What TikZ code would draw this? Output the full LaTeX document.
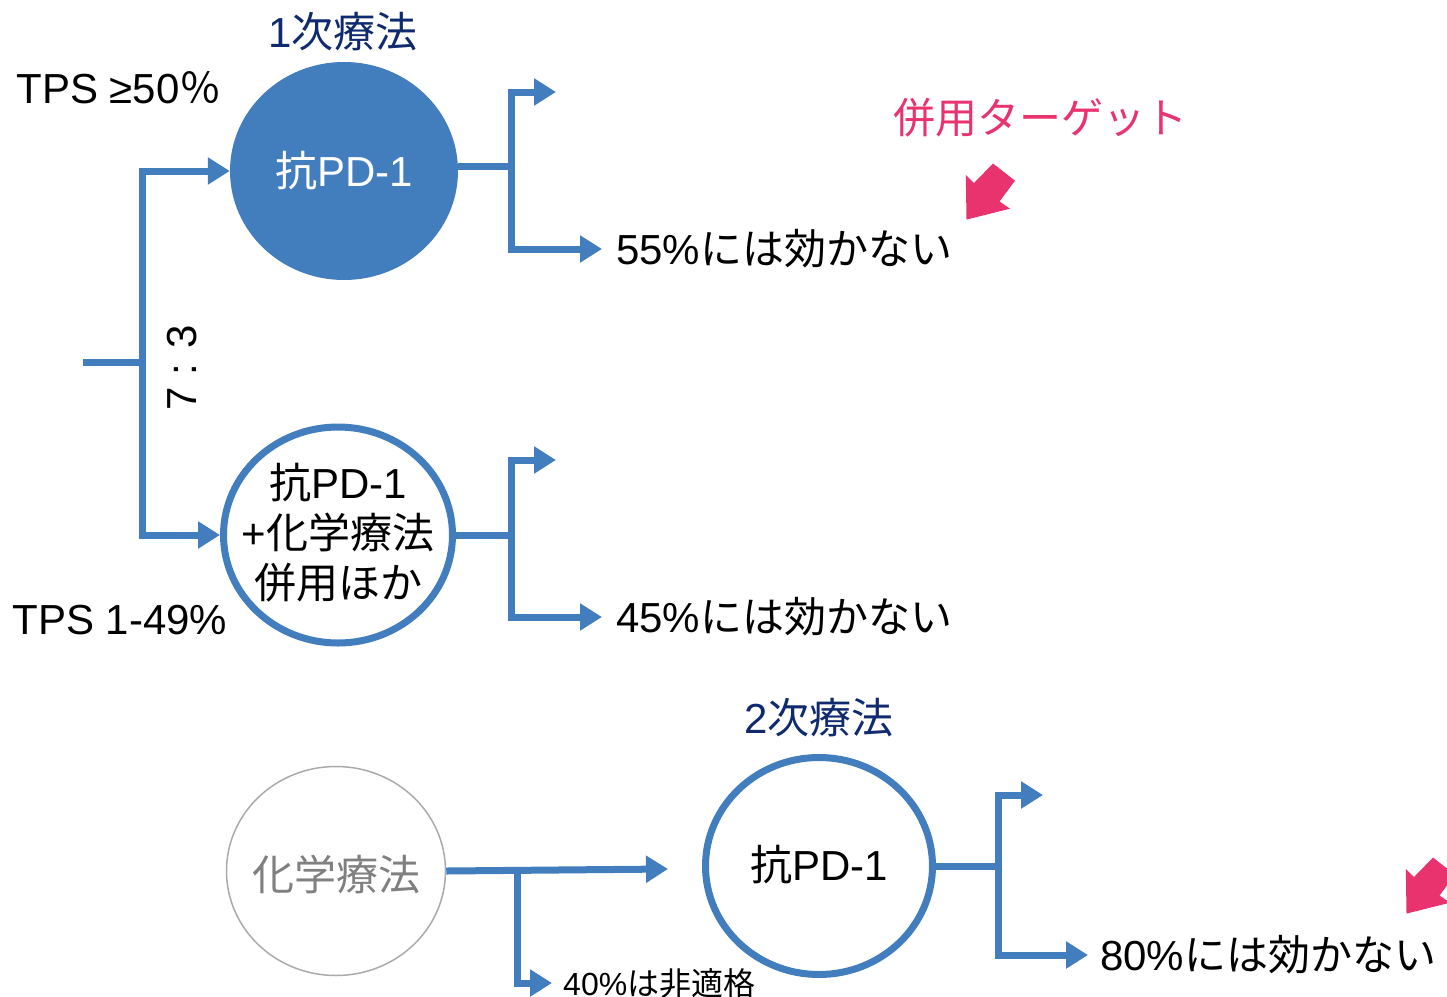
\documentclass[tikz,border=0pt]{standalone}
\usepackage{fontspec}
\setmainfont{Liberation Sans}
\newfontfamily\jp{Noto Sans CJK JP}
\usetikzlibrary{arrows.meta,shapes.geometric}
\definecolor{lblue}{RGB}{66,125,190}
\definecolor{navy}{RGB}{16,42,110}
\definecolor{hotpink}{RGB}{232,51,110}
\definecolor{lgray}{RGB}{170,170,170}
\definecolor{tgray}{RGB}{128,128,128}
\begin{document}
\begin{tikzpicture}[x=1pt,y=-1pt,
  conn/.style={draw=lblue,line width=7pt,line join=miter},
  arr/.style={conn,-{Triangle[length=22pt,width=26pt]}},
  big/.style={font=\fontsize{42}{50}\selectfont,inner sep=0pt},
  small/.style={font=\fontsize{32}{38}\selectfont,inner sep=0pt},
  blob/.style={ellipse,inner sep=0pt},
  outcome/.style={big,anchor=west,inner xsep=14pt}]
\clip (0,0) rectangle (1447,996);
\useasboundingbox (0,0) rectangle (1447,996);

% first-line circles
\node[blob,fill=lblue,minimum width=228pt,minimum height=218pt] (c1) at (344,171) {};
\node[big,text=white] (c1t) at (c1.center) {{\jp 抗}PD-1};
\node[blob,draw=lblue,line width=7pt,fill=white,minimum width=229pt,minimum height=216pt] (c2) at (338,535) {};
\node[big,align=center] (c2t) at (338,533) {{\jp 抗}PD-1\\+{\jp 化学療法}\\{\jp 併用ほか}};

% headings and labels
\node[big,text=navy] (h1) at (343,32) {1{\jp 次療法}};
\node[big] (tps50) at (119,88) {TPS ≥50{\jp ％}};
\node[big] (tps149) at (120,620) {TPS 1-49\%};
\node[big,rotate=90] (r73) at (182,368) {7 : 3};

% split
\coordinate (s) at (83,362);
\coordinate (j) at (142,362);
\draw[conn] (s) -- (j);
\draw[arr] (j) |- (c1.west);
\draw[arr] (j) |- (c2.west);

% outcomes of circle 1
\node[outcome] (r55) at (602,249) {55\%{\jp には効かない}};
\coordinate (b1) at (511,166);
\coordinate (t1) at (556,92);
\draw[conn] ([yshift=5pt]c1.east) -- (b1);
\draw[arr] (b1) |- (t1);
\draw[arr] (b1) |- (r55.west);

% outcomes of circle 2
\node[outcome] (r45) at (602,617) {45\%{\jp には効かない}};
\coordinate (b2) at (511,535);
\coordinate (t2) at (556,460);
\draw[conn] (c2.east) -- (b2);
\draw[arr] (b2) |- (t2);
\draw[arr] (b2) |- (r45.west);

% pink target
\node[big,text=hotpink] (tgt) at (1040,118) {\jp 併用ターゲット};
\fill[hotpink] (966.5,219.6) -- (965.8,175) -- (974,183) -- (993,163.5) -- (1015,180.7) -- (999.5,201.5) -- (1010,208.7) -- cycle;
\begin{scope}[shift={(440,694)}]
\fill[hotpink] (966.5,219.6) -- (965.8,175) -- (974,183) -- (993,163.5) -- (1015,180.7) -- (999.5,201.5) -- (1010,208.7) -- cycle;
\end{scope}

% second line
\node[blob,draw=lgray,line width=1.5pt,minimum width=219pt,minimum height=209pt] (g) at (336,871) {};
\node[big,text=tgray] (gt) at (336,874) {\jp 化学療法};
\node[big,text=navy] (h2) at (819,718) {2{\jp 次療法}};
\node[blob,draw=lblue,line width=7pt,minimum width=227pt,minimum height=217pt] (c3) at (819,866) {};
\node[big] (c3t) at (819,865) {{\jp 抗}PD-1};

\coordinate (e) at (668,869);
\coordinate (jb) at (517,871);
\node[small,anchor=west,inner xsep=11pt] (n40) at (552,983) {40\%{\jp は非適格}};
\draw[arr] (g.east) -- (e);
\draw[arr] (jb) |- (n40.west);

\node[outcome,inner xsep=12pt] (r80) at (1088,955) {80\%{\jp には効かない}};
\coordinate (b3) at (998,866);
\coordinate (t3) at (1043,795);
\draw[conn] (c3.east) -- (b3);
\draw[arr] (b3) |- (t3);
\draw[arr] (b3) |- (r80.west);
\end{tikzpicture}
\end{document}
